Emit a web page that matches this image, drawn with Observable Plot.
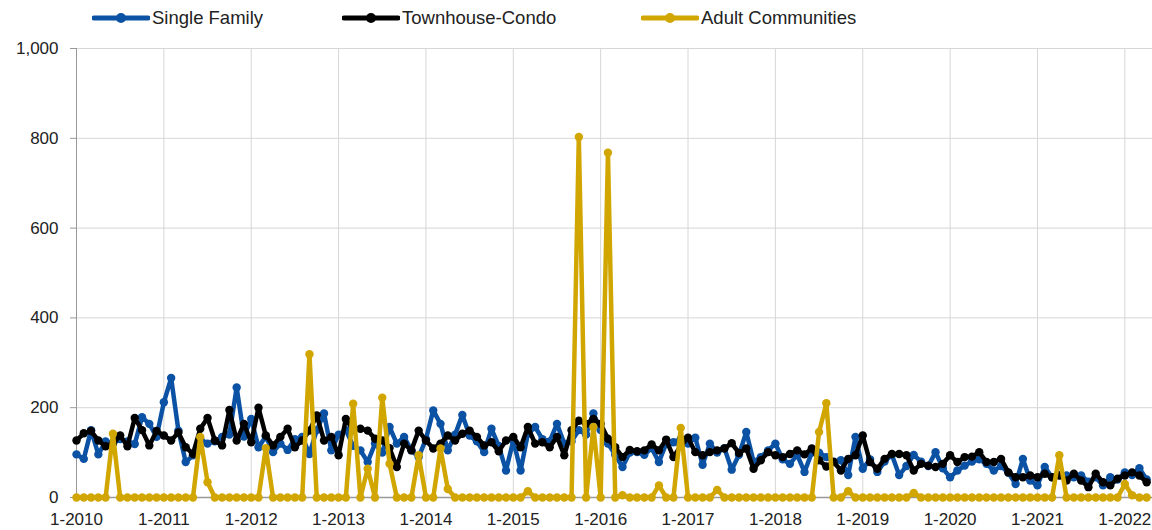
<!DOCTYPE html>
<html><head><meta charset="utf-8">
<script src="https://cdn.jsdelivr.net/npm/d3@7"></script>
<script src="https://cdn.jsdelivr.net/npm/@observablehq/plot@0.6"></script>
<style>
body{margin:0;background:#fff;font-family:"Liberation Sans",Arial,sans-serif;}
#legend{position:relative;height:36px;font-size:18.5px;color:#222;}
.item{position:absolute;top:0;height:36px;display:flex;align-items:center;gap:2px;white-space:nowrap;}
</style></head><body>
<div id="legend"></div>
<div id="chart"></div>
<script>
const seriesNames = ["Single Family", "Townhouse-Condo", "Adult Communities"];
const seriesColors = ["#0b52a4", "#000000", "#d2a600"];
const legendLefts = [92, 342, 641];
const startYear = 2010;
const tickYears = [2010,2011,2012,2013,2014,2015,2016,2017,2018,2019,2020,2021,2022];
const yTicks = [0,200,400,600,800,1000];

const singleFamily = [
 96,86,150,96,125,120,130,125,119,179,164,135,
 212,266,149,79,94,130,120,125,135,140,245,136,
 175,112,136,101,120,106,130,135,97,150,187,105,
 140,150,115,105,79,120,100,157,120,135,105,90,
 130,194,164,105,140,184,138,125,101,153,115,60,
 127,60,142,157,130,125,164,120,125,150,140,187,
 150,120,95,68,100,101,95,110,79,120,123,130,
 120,133,73,120,100,110,62,95,146,80,90,105,
 120,85,75,95,57,100,100,90,80,83,50,135,
 64,85,57,80,95,50,70,95,80,70,101,65,
 45,60,71,80,85,75,60,70,55,30,86,38,
 27,68,45,50,49,45,49,35,45,27,45,40,
 56,50,65,40];
const townhouseCondo = [
 127,143,148,127,114,120,138,114,177,150,116,148,
 138,127,145,112,97,153,177,127,116,195,127,164,
 123,200,138,116,135,153,112,127,149,183,127,135,
 94,175,150,153,149,131,127,110,68,120,105,149,
 127,109,120,138,127,142,149,135,116,123,103,127,
 135,112,157,120,123,112,135,94,150,171,164,175,
 164,131,112,90,106,103,105,118,105,129,90,115,
 133,101,94,101,105,109,121,99,109,64,83,101,
 94,90,97,105,96,109,83,69,79,60,86,94,
 138,79,64,86,97,97,94,60,75,71,68,75,
 94,79,90,91,101,79,79,86,56,45,45,49,
 45,53,45,49,38,53,38,23,53,34,27,42,
 49,56,49,34];
const adultCommunities = [
 0,0,0,0,0,142,0,0,0,0,0,0,
 0,0,0,0,0,135,34,0,0,0,0,0,
 0,0,110,0,0,0,0,0,319,0,0,0,
 0,0,209,0,64,0,222,75,0,0,0,94,
 0,0,109,19,0,0,0,0,0,0,0,0,
 0,0,14,0,0,0,0,0,0,803,0,157,
 0,768,0,5,0,0,0,0,27,0,0,155,
 0,0,0,0,17,0,0,0,0,0,0,0,
 0,0,0,0,0,0,146,210,0,0,14,0,
 0,0,0,0,0,0,0,10,0,0,0,0,
 0,0,0,0,0,0,0,0,0,0,0,0,
 0,0,0,94,0,0,0,0,0,0,0,0,
 30,5,0,0];

const seriesValues = [singleFamily, townhouseCondo, adultCommunities];
const rows = seriesValues.map(arr => arr.map((v, i) => ({i, v})));

// legend
const legend = document.getElementById("legend");
seriesNames.forEach((name, k) => {
  const it = document.createElement("div");
  it.className = "item";
  it.style.left = legendLefts[k] + "px";
  it.innerHTML = `<svg width="58" height="12"><line x1="2" y1="6" x2="56" y2="6" stroke="${seriesColors[k]}" stroke-width="5" stroke-linecap="round"/><circle cx="29" cy="6" r="5" fill="${seriesColors[k]}"/></svg><span>${name}</span>`;
  legend.appendChild(it);
});

const xTicks = tickYears.map(y => (y - startYear) * 12);
const marks = [
  Plot.gridX(xTicks, {stroke: "#d6d6d6", strokeOpacity: 1}),
  Plot.gridY(yTicks.filter(d => d > 0), {stroke: "#d6d6d6", strokeOpacity: 1}),
  Plot.axisY(yTicks, {label: null, tickSize: 6, tickPadding: 12, tickFormat: d3.format(","), fontSize: 17, stroke: "#999", color: "#222"}),
  Plot.axisX(xTicks, {label: null, tickSize: 0, tickPadding: 15, tickFormat: d => "1-" + (startYear + d / 12), fontSize: 17, color: "#222"}),
  Plot.ruleX([0], {stroke: "#999"}),
  Plot.ruleY([0], {stroke: "#999", strokeWidth: 1.5}),
];
rows.forEach((r, k) => {
  marks.push(Plot.line(r, {x: "i", y: "v", stroke: seriesColors[k], strokeWidth: 4.5, strokeLinejoin: "round"}));
  marks.push(Plot.dot(r, {x: "i", y: "v", fill: seriesColors[k], r: 4.2}));
});

const chart = Plot.plot({
  width: 1152,
  height: 494,
  marginLeft: 76,
  marginRight: 0,
  marginTop: 12,
  marginBottom: 33,
  style: {fontFamily: '"Liberation Sans", Arial, sans-serif', background: "#fff", overflow: "visible"},
  x: {domain: [0, 147.8], axis: null, label: null},
  y: {domain: [0, 1000], axis: null, label: null},
  marks
});
document.getElementById("chart").appendChild(chart);
</script>
</body></html>
